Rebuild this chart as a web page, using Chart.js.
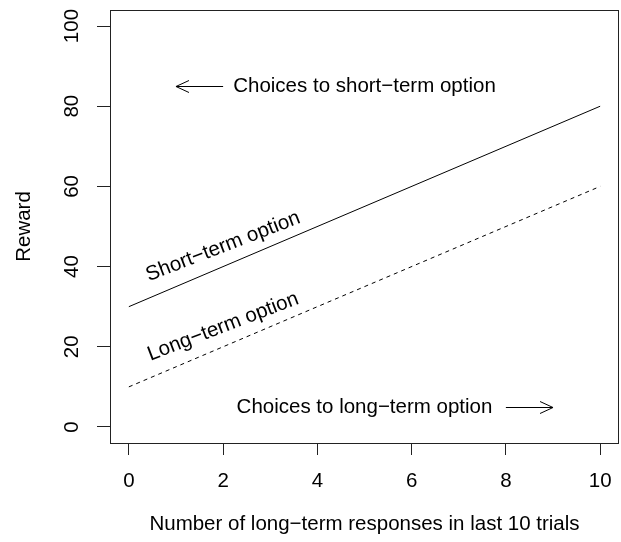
<!DOCTYPE html>
<html>
<head>
<meta charset="utf-8">
<script src="https://cdn.jsdelivr.net/npm/chart.js@4/dist/chart.umd.min.js"></script>
<style>
  html, body { margin: 0; padding: 0; background: #fff; }
  canvas { display: block; }
</style>
</head>
<body>
<canvas id="c" width="621" height="542"></canvas>
<script>
// Reward as a function of recent long-term responses
const xValues = [0, 10];
const shortTermReward = [30, 80];
const longTermReward = [10, 60];

const xTicks = [0, 2, 4, 6, 8, 10];
const yTicks = [0, 20, 40, 60, 80, 100];

// Rotated labels that run along each line
const lineLabels = ['Short\u2212term option', 'Long\u2212term option'];
const lineLabelX = [2, 2];
const lineLabelY = [45, 25];
const lineLabelAngle = 21;

// Notes with arrows
const noteTexts = ['Choices to short\u2212term option', 'Choices to long\u2212term option'];
const noteX = [5, 5];
const noteY = [85, 5];
const arrowFromX = [2, 8];
const arrowToX = [1, 9];
const arrowY = [85, 5];

const xTitle = 'Number of long\u2212term responses in last 10 trials';
const yTitle = 'Reward';

const FONT = '"Liberation Sans", Arial, Helvetica, sans-serif';
const FSIZE = 20.5;
const INK = '#000';

function pts(xs, ys) { return xs.map((x, i) => ({ x: x, y: ys[i] })); }

const decorations = {
  id: 'decorations',
  afterDatasetsDraw(chart) {
    const ctx = chart.ctx;
    const a = chart.chartArea;
    const xs = chart.scales.x, ys = chart.scales.y;
    ctx.save();
    // plot frame
    ctx.strokeStyle = '#222';
    ctx.lineWidth = 1;
    ctx.strokeRect(Math.round(a.left) + 0.5, Math.round(a.top) + 0.5,
                   Math.round(a.right - a.left) - 1, Math.round(a.bottom - a.top));

    ctx.fillStyle = INK;
    ctx.font = FSIZE + 'px ' + FONT;

    // y tick labels, reading bottom to top
    yTicks.forEach(v => {
      const py = ys.getPixelForValue(v);
      ctx.save();
      ctx.translate(72.5, py);
      ctx.rotate(-Math.PI / 2);
      ctx.textAlign = 'center';
      ctx.textBaseline = 'middle';
      ctx.fillText(String(v), 0, 0);
      ctx.restore();
    });

    // axis titles
    ctx.textAlign = 'center';
    ctx.textBaseline = 'middle';
    ctx.fillText(xTitle, (a.left + a.right) / 2, 524.5);
    ctx.save();
    ctx.translate(24, (a.top + a.bottom) / 2);
    ctx.rotate(-Math.PI / 2);
    ctx.fillText(yTitle, 0, 0);
    ctx.restore();

    // labels along the lines
    lineLabels.forEach((t, i) => {
      ctx.save();
      ctx.translate(xs.getPixelForValue(lineLabelX[i]), ys.getPixelForValue(lineLabelY[i]));
      ctx.rotate(-lineLabelAngle * Math.PI / 180);
      ctx.fillText(t, 0, 0);
      ctx.restore();
    });

    // notes
    noteTexts.forEach((t, i) => {
      ctx.fillText(t, xs.getPixelForValue(noteX[i]), ys.getPixelForValue(noteY[i]));
    });

    // arrows
    ctx.strokeStyle = INK;
    ctx.lineWidth = 1;
    arrowFromX.forEach((fx, i) => {
      const x0 = xs.getPixelForValue(fx), x1 = xs.getPixelForValue(arrowToX[i]);
      const y = Math.round(ys.getPixelForValue(arrowY[i])) + 0.5;
      const dir = Math.sign(x1 - x0);
      const len = 13, spread = 6;
      ctx.beginPath();
      ctx.moveTo(x0, y);
      ctx.lineTo(x1, y);
      ctx.moveTo(x1 - dir * len, y - spread);
      ctx.lineTo(x1, y);
      ctx.lineTo(x1 - dir * len, y + spread);
      ctx.stroke();
    });
    ctx.restore();
  }
};

new Chart(document.getElementById('c'), {
  type: 'scatter',
  data: {
    datasets: [
      {
        label: 'Short-term option',
        data: pts(xValues, shortTermReward),
        showLine: true,
        borderColor: INK,
        borderWidth: 1,
        pointRadius: 0,
        fill: false
      },
      {
        label: 'Long-term option',
        data: pts(xValues, longTermReward),
        showLine: true,
        borderColor: INK,
        borderWidth: 1,
        borderDash: [4, 4],
        pointRadius: 0,
        fill: false
      }
    ]
  },
  options: {
    responsive: false,
    animation: false,
    devicePixelRatio: 1,
    layout: { padding: { top: 10, right: 2, left: 0, bottom: 0 } },
    plugins: { legend: { display: false }, tooltip: { enabled: false } },
    scales: {
      x: {
        type: 'linear',
        min: -0.4,
        max: 10.4,
        afterBuildTicks: s => { s.ticks = xTicks.map(v => ({ value: v })); },
        afterFit: s => { s.height = 99; s.paddingLeft = 0; s.paddingRight = 0; },
        grid: { drawOnChartArea: false, drawTicks: true, tickLength: 12, color: '#222', lineWidth: 1 },
        border: { display: false },
        ticks: {
          color: INK,
          font: { family: FONT, size: FSIZE },
          padding: 14,
          maxRotation: 0,
          minRotation: 0,
          callback: v => String(v)
        }
      },
      y: {
        type: 'linear',
        min: -4,
        max: 104,
        afterBuildTicks: s => { s.ticks = yTicks.map(v => ({ value: v })); },
        afterFit: s => { s.width = 110; s.paddingTop = 0; s.paddingBottom = 0; },
        grid: { drawOnChartArea: false, drawTicks: true, tickLength: 13, color: '#222', lineWidth: 1 },
        border: { display: false },
        ticks: { display: false }
      }
    }
  },
  plugins: [decorations]
});
</script>
</body>
</html>
